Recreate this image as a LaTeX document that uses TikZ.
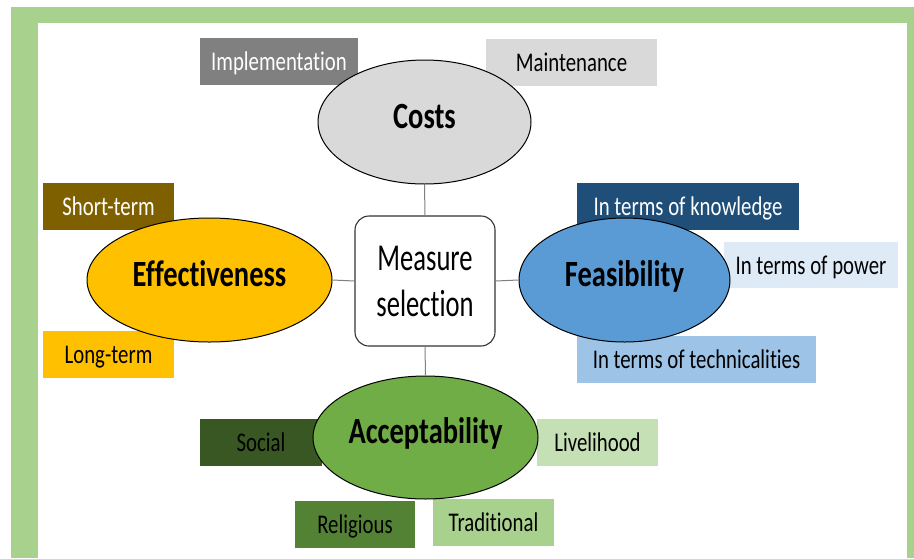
\documentclass[tikz,border=0pt]{standalone}
\usepackage{fontspec}
\setmainfont{Carlito}[FakeStretch=0.77, Ligatures={NoCommon}]
\newfontfamily\measfont{Carlito}[FakeStretch=0.7, Ligatures={NoCommon}]
\usetikzlibrary{shapes.geometric}
\definecolor{frameg}{HTML}{A9D18E}
\definecolor{cgrayd}{HTML}{808080}
\definecolor{cgrayl}{HTML}{D9D9D9}
\definecolor{cbrown}{HTML}{7F6000}
\definecolor{cgold}{HTML}{FFC000}
\definecolor{cnavy}{HTML}{1F4E79}
\definecolor{cblue}{HTML}{5B9BD5}
\definecolor{cbluel}{HTML}{DEEBF7}
\definecolor{cbluem}{HTML}{9DC3E6}
\definecolor{cgreen}{HTML}{70AD47}
\definecolor{cgreend}{HTML}{385723}
\definecolor{cgreenm}{HTML}{548235}
\definecolor{cgreenl}{HTML}{C5E0B4}
\definecolor{cgreenll}{HTML}{A9D18E}
\definecolor{linkg}{HTML}{808080}
\tikzset{
  tagbox/.style={rectangle, inner sep=0pt, minimum height=47pt, text height=19pt, text depth=1pt,
                 font=\fontsize{27}{30}\selectfont},
  bigoval/.style={ellipse, draw=black, line width=1pt, inner sep=0pt, text height=22pt, text depth=10pt,
                  font=\fontsize{37}{40}\selectfont\bfseries},
  link/.style={draw=linkg, line width=1pt},
}
\begin{document}
\begin{tikzpicture}[x=1pt,y=-1pt]
\useasboundingbox (0,0) rectangle (914,558);
\fill[white] (0,0) rectangle (914,558);
\fill[frameg] (11,7) rectangle (914,558);
\fill[white] (38,23) rectangle (907,558);

% tag boxes
\node[tagbox, fill=cgrayd, text=white, minimum width=158pt] (impl) at (279,61.5) {Implementation};
\node[tagbox, fill=cgrayl, text=black, minimum width=171pt] (maint) at (571.5,62.5) {Maintenance};
\node[tagbox, fill=cbrown, text=white, minimum width=131pt] (short) at (108.5,206.5) {Short-term};
\node[tagbox, fill=cgold, text=black, minimum width=131pt] (long) at (108.5,354.5) {Long-term};
\node[tagbox, fill=cnavy, text=white, minimum width=222pt] (know) at (688,206.5) {In terms of knowledge};
\node[tagbox, fill=cbluel, text=black, minimum width=174pt, minimum height=46pt] (power) at (811,265) {In terms of power};
\node[tagbox, fill=cbluem, text=black, minimum width=239pt] (tech) at (696.5,359.5) {In terms of technicalities};
\node[tagbox, fill=cgreend, text=black, minimum width=122pt] (social) at (261,442.5) {Social};
\node[tagbox, fill=cgreenl, text=black, minimum width=121pt] (live) at (597.5,442.5) {Livelihood};
\node[tagbox, fill=cgreenm, text=black, minimum width=120pt] (relig) at (355,524.5) {Religious};
\node[tagbox, fill=cgreenll, text=black, minimum width=121pt] (trad) at (493.5,522.5) {Traditional};

% ellipses
\node[bigoval, fill=cgrayl, minimum width=213pt, minimum height=124pt] (costs) at (424.5,122) {Costs};
\node[bigoval, fill=cgold, minimum width=245pt, minimum height=124pt] (eff) at (209.5,280) {Effectiveness};
\node[bigoval, fill=cblue, minimum width=211pt, minimum height=124pt] (feas) at (624.5,280) {Feasibility};
\node[bigoval, fill=cgreen, minimum width=225pt, minimum height=123pt] (acc) at (425.5,437.5) {Acceptability};

% centre
\node[rectangle, rounded corners=14pt, draw=black!80, line width=1.1pt, fill=white,
      minimum width=140pt, minimum height=130pt, inner sep=0pt, align=center,
      font=\measfont\fontsize{38}{46}\selectfont] (meas) at (425,281) {Measure\\selection};

\draw[link] (meas.north) -- (costs.south);
\draw[link] (meas.south) -- (acc.north);
\draw[link] (meas.west) -- (eff.east);
\draw[link] (meas.east) -- (feas.west);
\end{tikzpicture}
\end{document}
